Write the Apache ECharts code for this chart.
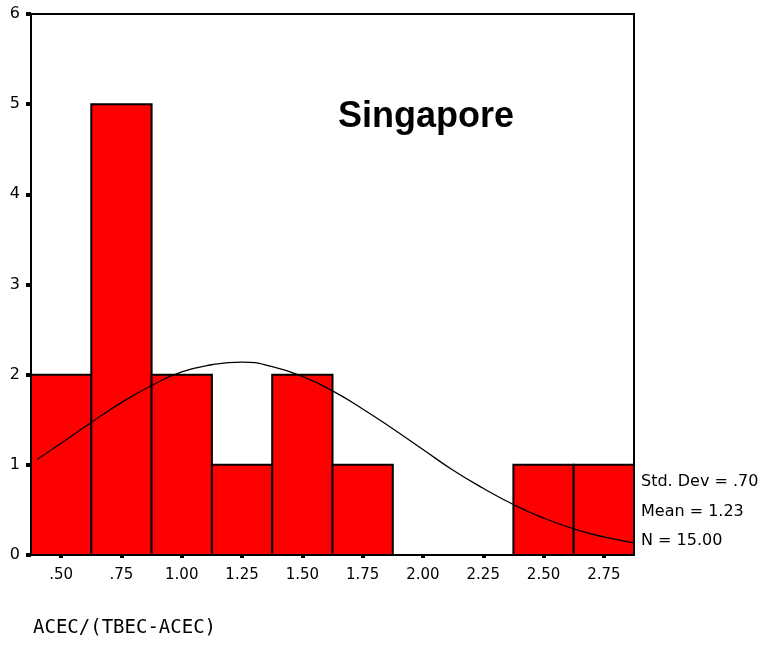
<!DOCTYPE html>
<html>
<head>
<meta charset="utf-8">
<style>
  html, body { margin: 0; padding: 0; background: #fff; }
  #chart { width: 761px; height: 645px; }
</style>
<script src="https://cdn.jsdelivr.net/npm/echarts@6/dist/echarts.min.js"></script>
</head>
<body>
<div id="chart"></div>
<script>
// Histogram bins (midpoints) and their frequencies
const binMids = [0.50, 0.75, 1.00, 1.25, 1.50, 1.75, 2.00, 2.25, 2.50, 2.75];
const binCounts = [2, 5, 2, 1, 2, 1, 0, 0, 1, 1];
const binWidth = 0.25;

// Fitted normal curve, sampled along the axis
const curveX = [0.40, 0.50, 0.625, 0.75, 0.875, 1.00, 1.125, 1.25, 1.375, 1.50, 1.625,
                1.75, 1.875, 2.00, 2.125, 2.25, 2.375, 2.50, 2.625, 2.75, 2.875];
const curveY = [1.06, 1.24, 1.47, 1.69, 1.88, 2.03, 2.11, 2.14, 2.09, 1.98, 1.82,
                1.62, 1.40, 1.17, 0.94, 0.74, 0.56, 0.41, 0.29, 0.20, 0.135];

// Axis ranges and tick labels
const xMin = 0.375, xMax = 2.875;
const yTicks = [0, 1, 2, 3, 4, 5, 6];
const xTitle = 'ACEC/(TBEC-ACEC)';

// Summary statistics
const statsLines = ['Std. Dev = .70', 'Mean = 1.23', 'N = 15.00'];

const fmtX = v => (v < 1 ? '.' + v.toFixed(2).split('.')[1] : v.toFixed(2));

const chart = echarts.init(document.getElementById('chart'), null, { renderer: 'canvas' });

const font = 'DejaVu Sans';

chart.setOption({
  animation: false,
  backgroundColor: '#ffffff',
  grid: {
    left: 31, top: 14, width: 603, height: 541,
    containLabel: false, outerBoundsMode: 'none',
    show: true, borderColor: '#000', borderWidth: 2, backgroundColor: 'transparent'
  },
  title: {
    text: 'Singapore',
    left: 421, top: 94, textAlign: 'center',
    textStyle: { fontFamily: 'Liberation Sans', fontWeight: 'bold', fontSize: 36, color: '#000' }
  },
  xAxis: {
    type: 'value', min: xMin, max: xMax,
    axisLine: { show: true, lineStyle: { color: '#000', width: 2 } },
    splitLine: { show: false },
    axisTick: { show: true, customValues: binMids, length: 3, inside: false, lineStyle: { color: '#000', width: 4 } },
    axisLabel: { customValues: binMids, formatter: fmtX, margin: 13, fontFamily: font, fontSize: 15, color: '#000' }
  },
  yAxis: {
    type: 'value', min: 0, max: 6, interval: 1,
    axisLine: { show: true, lineStyle: { color: '#000', width: 2 } },
    splitLine: { show: false },
    axisTick: { show: true, length: 5, lineStyle: { color: '#000', width: 4 } },
    axisLabel: { margin: 11, fontFamily: font, fontSize: 16, color: '#000',
                 formatter: v => (yTicks.indexOf(v) >= 0 ? String(v) : '') }
  },
  graphic: statsLines.map((t, i) => ({
    type: 'text', x: 641, y: 482 + i * 29.5,
    style: { text: t, fontFamily: font, fontSize: 16, fill: '#000', verticalAlign: 'middle' }
  })).concat([{
    type: 'text', x: 33, y: 628,
    style: { text: xTitle, fontFamily: 'DejaVu Sans Mono', fontSize: 19, fill: '#000', verticalAlign: 'middle' }
  }]),
  series: [
    {
      type: 'custom',
      data: binMids.map((m, i) => [m, binCounts[i]]),
      renderItem: function (params, api) {
        const mid = api.value(0), cnt = api.value(1);
        if (!cnt) return null;
        const p0 = api.coord([mid - binWidth / 2, cnt]);
        const p1 = api.coord([mid + binWidth / 2, 0]);
        return {
          type: 'rect',
          shape: { x: p0[0], y: p0[1], width: p1[0] - p0[0], height: p1[1] - p0[1] },
          style: { fill: '#ff0000', stroke: '#000', lineWidth: 2 }
        };
      },
      z: 2
    },
    {
      type: 'line',
      data: curveX.map((x, i) => [x, curveY[i]]),
      smooth: true, showSymbol: false,
      lineStyle: { color: '#000', width: 1.3 },
      z: 3
    }
  ]
});
</script>
</body>
</html>
